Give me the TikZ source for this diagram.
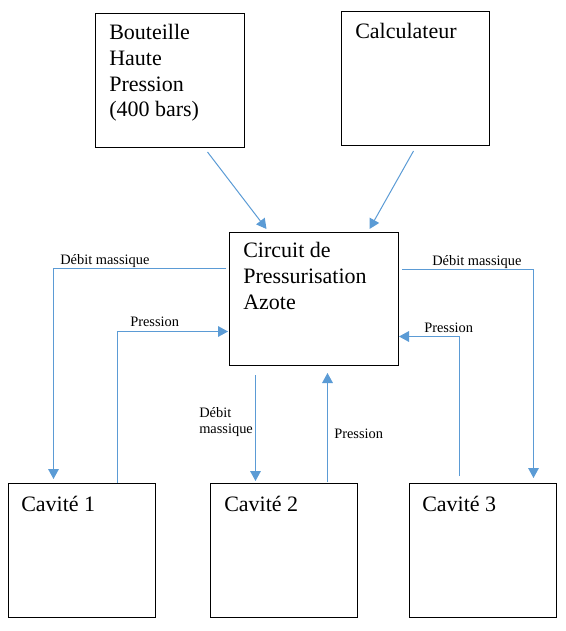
\documentclass[tikz,border=0pt]{standalone}
\usepackage{fontspec}
\setmainfont{Liberation Serif}
\usetikzlibrary{arrows.meta,calc}
\definecolor{ink}{HTML}{000000}
\definecolor{wire}{HTML}{5B9BD5}
\tikzset{
  >={Triangle[length=7.5pt,width=8pt]},
  unitbox/.style={draw=ink,line width=.75pt,anchor=north west,inner sep=0pt},
  boxtext/.style={anchor=base west,inner sep=0pt,align=left,font=\fontsize{16.5}{19.3}\selectfont},
  tag/.style={anchor=base west,inner sep=0pt,align=left,font=\fontsize{10.8}{12}\selectfont},
  flow/.style={->,line width=.75pt,color=wire},
}

\begin{document}
\begin{tikzpicture}[x=.75pt,y=-.75pt]
  \useasboundingbox (0,0) rectangle (566,631);

  % boites
  \node[unitbox,minimum width=111.75pt,minimum height=100.5pt] (bottle) at (95,13) {};
  \node[unitbox,minimum width=111pt,minimum height=100.5pt] (computer) at (341,11) {};
  \node[unitbox,minimum width=126.75pt,minimum height=99.75pt] (circuit) at (229,232) {};
  \node[unitbox,minimum width=110.25pt,minimum height=100.5pt] (cav1) at (8,483) {};
  \node[unitbox,minimum width=110.25pt,minimum height=100.5pt] (cav2) at (210,483) {};
  \node[unitbox,minimum width=110.25pt,minimum height=100.5pt] (cav3) at (409,483) {};

  % texte (ancre sur la derniere ligne)
  \node[boxtext] (bottletxt) at ($(bottle.north west)+(14,104)$) {Bouteille\\Haute\\Pression\\(400 bars)};
  \node[boxtext] (computertxt) at ($(computer.north west)+(14,28)$) {Calculateur};
  \node[boxtext] (circuittxt) at ($(circuit.north west)+(14,77)$) {Circuit de\\Pressurisation\\Azote};
  \node[boxtext] (cav1txt) at ($(cav1.north west)+(13,28)$) {Cavité 1};
  \node[boxtext] (cav2txt) at ($(cav2.north west)+(14,28)$) {Cavité 2};
  \node[boxtext] (cav3txt) at ($(cav3.north west)+(13,28)$) {Cavité 3};

  % liaisons
  \draw[flow] ($(bottle.south)+(37.5,4)$) -- ($(circuit.north)+(-47.5,-3)$);
  \draw[flow] ($(computer.south)+(-2,5)$) -- ($(circuit.north)+(55.5,-3)$);

  \draw[flow] ($(circuit.west)+(-3,-30.5)$) -| ($(cav1.north)+(-28.5,-4)$);
  \draw[flow] ($(cav1.north)+(35.5,0)$) |- ($(circuit.west)+(-1,32.5)$);
  \draw[flow] ($(circuit.south)+(-58.5,9)$) -- ($(cav2.north)+(-28.5,-2)$);
  \draw[flow] ($(cav2.north)+(43.5,-1)$) -- ($(circuit.south)+(13.5,7)$);
  \draw[flow] ($(circuit.east)+(3,-29.5)$) -| ($(cav3.north)+(50.5,-5)$);
  \draw[flow] ($(cav3.north)+(-23.5,-7)$) |- ($(circuit.east)+(0,37.5)$);

  \node[tag] (massleft) at (60,264) {Débit massique};
  \node[tag] (pressleft) at (130,326) {Pression};
  \node[tag] (massmid) at (199,433) {Débit\\massique};
  \node[tag] (pressmid) at (334,438) {Pression};
  \node[tag] (massright) at (432,265) {Débit massique};
  \node[tag] (pressright) at (424,332) {Pression};
\end{tikzpicture}
\end{document}
